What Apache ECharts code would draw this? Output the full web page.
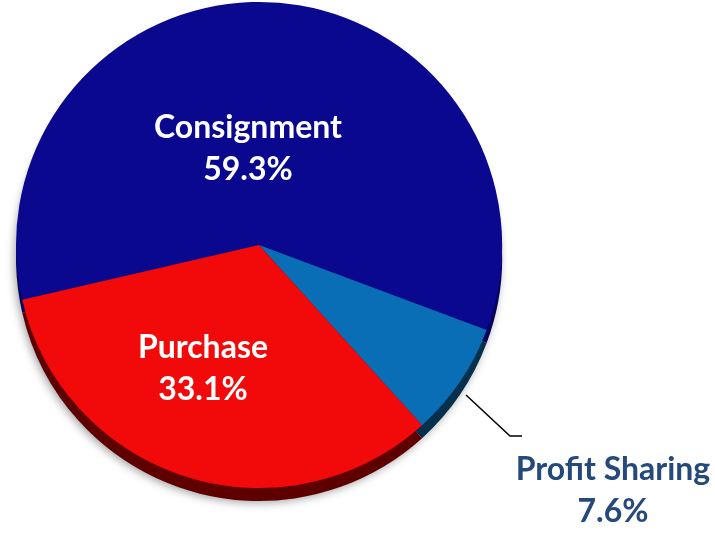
<!DOCTYPE html>
<html>
<head>
<meta charset="utf-8">
<script src="https://cdn.jsdelivr.net/npm/echarts@6/dist/echarts.min.js"></script>
<style>html,body{margin:0;padding:0;background:#fff}#c{width:715px;height:533px}</style>
</head>
<body>
<div id="c"></div>
<script>
const categories = ['Consignment', 'Profit Sharing', 'Purchase'];
const values = [59.3, 7.6, 33.1];
const topColors = ['#0b0890', '#0a6eb6', '#f20a0a'];
const sideColors = ['#06055c', '#05304d', '#5e0000'];

const chart = echarts.init(document.getElementById('c'));
const FONT = 'Lato';

function dataFor(colors) {
  return categories.map((n, i) => ({ name: n, value: values[i], itemStyle: { color: colors[i] } }));
}

const labelPos = {
  'Consignment': { x: 248, y: 149, color: '#ffffff' },
  'Purchase': { x: 203, y: 369, color: '#ffffff' },
  'Profit Sharing': { x: 613, y: 491, color: '#24497a' }
};

chart.setOption({
  animation: false,
  series: [
    {
      type: 'pie',
      center: [259, 258],
      radius: [0, 243],
      startAngle: 193,
      clockwise: true,
      silent: true,
      label: { show: false },
      labelLine: { show: false },
      itemStyle: { shadowBlur: 8, shadowColor: 'rgba(0,0,0,0.35)', shadowOffsetX: -2, shadowOffsetY: 2 },
      data: dataFor(sideColors)
    },
    {
      type: 'pie',
      center: [259, 245],
      radius: [0, 243],
      startAngle: 193,
      clockwise: true,
      silent: true,
      itemStyle: { borderWidth: 0 },
      label: {
        show: true,
        position: 'outside',
        formatter: p => p.name + '\n' + p.value.toFixed(1) + '%',
        fontFamily: FONT,
        fontWeight: 'bold',
        fontSize: 32,
        lineHeight: 42,
        align: 'center',
        color: '#fff'
      },
      labelLine: { show: true, lineStyle: { color: '#000', width: 1.5 }, smooth: false },
      labelLayout: function (params) {
        const name = categories[params.dataIndex];
        const lp = labelPos[name];
        const out = { x: lp.x, y: lp.y, align: 'center', verticalAlign: 'middle', hideOverlap: false };
        if (name === 'Profit Sharing') {
          out.labelLinePoints = [[466, 395], [510, 436], [522, 436]];
        } else {
          out.labelLinePoints = [[0, 0], [0, 0], [0, 0]];
        }
        return out;
      },
      data: categories.map((n, i) => ({
        name: n, value: values[i], itemStyle: { color: topColors[i] },
        label: { color: labelPos[n].color },
        labelLine: { show: n === 'Profit Sharing' }
      }))
    }
  ]
});
</script>
</body>
</html>
